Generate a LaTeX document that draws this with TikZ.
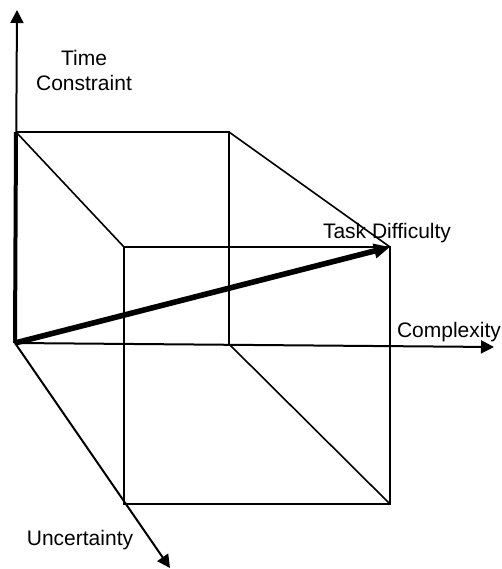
\documentclass[tikz,border=0pt]{standalone}
\usepackage{fontspec}
\setmainfont{Liberation Sans}
\usetikzlibrary{arrows.meta}
\tikzset{
  edge/.style={line width=0.8pt},
  axis/.style={line width=1pt, -{Triangle[length=6.5pt,width=6.5pt]}},
  lbl/.style={font=\fontsize{10.5}{12.5}\selectfont, inner sep=0pt, align=center},
}

\begin{document}
\begin{tikzpicture}[x=0.5pt, y=-0.5pt]
  \useasboundingbox (0,0) rectangle (502,569);
  % origin and axis ends
  \coordinate (o) at (15,343);
  \coordinate (timeEnd) at (17,10);
  \coordinate (cplxEnd) at (494,347);
  \coordinate (uncEnd) at (170,568);
  % back face
  \coordinate (btl) at (16,132);
  \coordinate (btr) at (229,132);
  \coordinate (bbr) at (229,344);
  % front face
  \coordinate (ftl) at (124,247);
  \coordinate (ftr) at (390,247);
  \coordinate (fbr) at (390,504);
  \coordinate (fbl) at (124,504);

  \draw[edge] (btl) -- (btr) -- (bbr);
  \draw[edge] (ftl) -- (ftr) -- (fbr) -- (fbl) -- cycle;
  \foreach \a/\b in {btl/ftl, btr/ftr, bbr/fbr} \draw[edge] (\a) -- (\b);

  \draw[axis] (o) -- (timeEnd);
  \draw[axis] (o) -- (cplxEnd);
  \draw[axis] (o) -- (uncEnd);
  \draw[line width=2pt] (o) -- (btl);
  \draw[line width=2.8pt, -{Triangle[length=8pt,width=7pt]}] (o) -- (ftr);

  \node[lbl] (time) at (84,70) {Time\\Constraint};
  \node[lbl] (task) at (387,233) {Task Difficulty};
  \node[lbl] (cplx) at (449,332) {Complexity};
  \node[lbl] (unc) at (80,540) {Uncertainty};
\end{tikzpicture}
\end{document}
